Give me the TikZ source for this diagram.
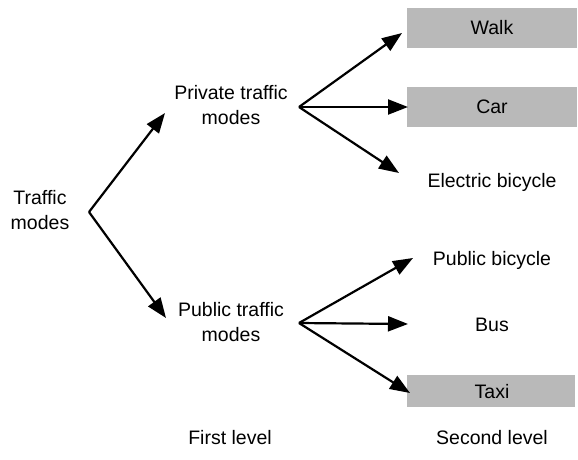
\documentclass[tikz,border=0pt]{standalone}
\usepackage{fontspec}
\setmainfont{Liberation Sans}
\usetikzlibrary{arrows.meta}
\definecolor{boxgray}{RGB}{185,185,185}
\begin{document}
\begin{tikzpicture}[x=1pt,y=-1pt,
  lbl/.style={font=\fontsize{19.5}{24.5}\selectfont, align=center, inner sep=0pt},
  graybox/.style={fill=boxgray, draw=none, inner sep=0pt},
  arr/.style={line width=2.2pt, -{Triangle[length=20pt,width=15pt]}}]
\useasboundingbox (0,0) rectangle (578,459);
% boxes
\node[graybox, minimum width=170pt, minimum height=40pt] (walkbox) at (492,28) {};
\node[graybox, minimum width=170pt, minimum height=40pt] (carbox) at (492,107) {};
\node[graybox, minimum width=168pt, minimum height=32pt] (taxibox) at (491,391) {};
% texts
\node[lbl] (root) at (40,210) {Traffic\\modes};
\node[lbl] (priv) at (231,105) {Private traffic\\modes};
\node[lbl] (pub) at (231,322) {Public traffic\\modes};
\node[lbl] (walk) at (492,28) {Walk};
\node[lbl] (car) at (492,107) {Car};
\node[lbl] (ebike) at (492,182) {Electric bicycle};
\node[lbl] (pbike) at (492,260) {Public bicycle};
\node[lbl] (bus) at (492,325) {Bus};
\node[lbl] (taxi) at (492,392) {Taxi};
\node[lbl] (first) at (230,438) {First level};
\node[lbl] (second) at (492,438) {Second level};
% branch points and arrow ends
\coordinate (r0) at (89,212);
\coordinate (p0) at (299,107);
\coordinate (q0) at (299,323);
\coordinate (tpriv) at (165,113);
\coordinate (tpub) at (166,318);
\coordinate (twalk) at (402,33);
\coordinate (tcar) at (408,107);
\coordinate (tebike) at (399,173);
\coordinate (tpbike) at (413,258);
\coordinate (tbus) at (408,324);
\coordinate (ttaxi) at (410,393);
\draw[arr] (r0) -- (tpriv);
\draw[arr] (r0) -- (tpub);
\draw[arr] (p0) -- (twalk);
\draw[arr] (p0) -- (tcar);
\draw[arr] (p0) -- (tebike);
\draw[arr] (q0) -- (tpbike);
\draw[arr] (q0) -- (tbus);
\draw[arr] (q0) -- (ttaxi);
\end{tikzpicture}
\end{document}
